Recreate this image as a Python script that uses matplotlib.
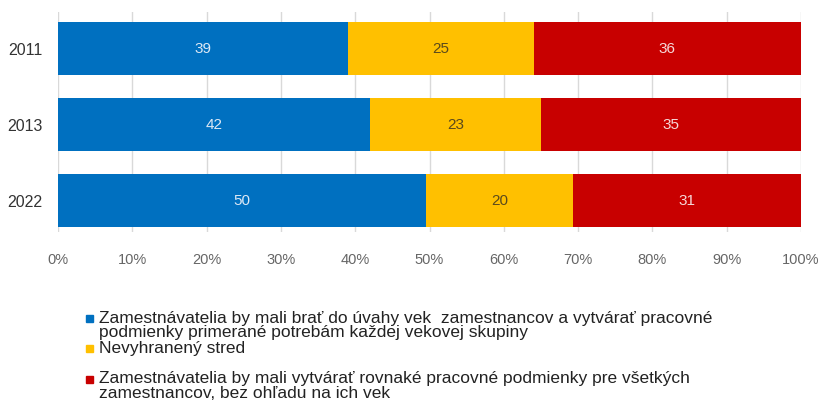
import matplotlib.pyplot as plt
import numpy as np
from matplotlib.patches import Rectangle

plt.rcParams['font.family'] = ['Liberation Sans', 'DejaVu Sans']

years = ['2011', '2013', '2022']
consider_age = [39, 42, 50]
neutral = [25, 23, 20]
equal_terms = [36, 35, 31]

series_names = [
    'Zamestnávatelia by mali brať do úvahy vek  zamestnancov a vytvárať pracovné\n'
    'podmienky primerané potrebám každej vekovej skupiny',
    'Nevyhranený stred',
    'Zamestnávatelia by mali vytvárať rovnaké pracovné podmienky pre všetkých\n'
    'zamestnancov, bez ohľadu na ich vek',
]
colors = ['#0070C0', '#FFC000', '#C80000']
label_colors = ['#dce8f5', '#5b4a1c', '#f6d8d8']

series = np.array([consider_age, neutral, equal_terms], dtype=float)
shares = series / series.sum(axis=0) * 100

fig = plt.figure(figsize=(8.23, 4.0), dpi=100)
ax = fig.add_axes([58 / 823, 1 - 232 / 400, (801 - 58) / 823, 220 / 400])

y = np.arange(len(years))
left = np.zeros(len(years))
for vals, raw, col, lc in zip(shares, series, colors, label_colors):
    ax.barh(y, vals, left=left, height=0.7, color=col, zorder=2)
    for yi, (l, v, r) in enumerate(zip(left, vals, raw)):
        ax.text(l + v / 2, yi, f'{r:.0f}', ha='center', va='center',
                fontsize=11, color=lc, zorder=3)
    left += vals

ax.set_xlim(0, 100)
ax.set_ylim(2.41, -0.48)
ax.set_xticks(np.arange(0, 101, 10))
ax.set_xticklabels([f'{t}%' for t in range(0, 101, 10)], fontsize=10.5, color='#666666')
ax.set_yticks(y)
ax.set_yticklabels(years, fontsize=11.5, color='#333333')
ax.tick_params(axis='both', length=0)
ax.tick_params(axis='x', pad=15)
ax.tick_params(axis='y', pad=11)
ax.grid(axis='x', color='#d9d9d9', linewidth=1, zorder=0)
for s in ax.spines.values():
    s.set_visible(False)

# legend drawn by hand, one text line per row
rows = [(318, 0), (348, 1), (379, 2)]
for ypix, i in rows:
    fig.patches.append(Rectangle((86 / 823, 1 - (ypix + 3.5) / 400), 7 / 823, 7 / 400,
                                 transform=fig.transFigure, color=colors[i]))
    for k, line in enumerate(series_names[i].split('\n')):
        fig.text(99 / 823, 1 - (ypix + 15 * k) / 400, line, fontsize=12.5,
                 color='#222222', va='center', ha='left')

fig.savefig('out.png', dpi=100)
